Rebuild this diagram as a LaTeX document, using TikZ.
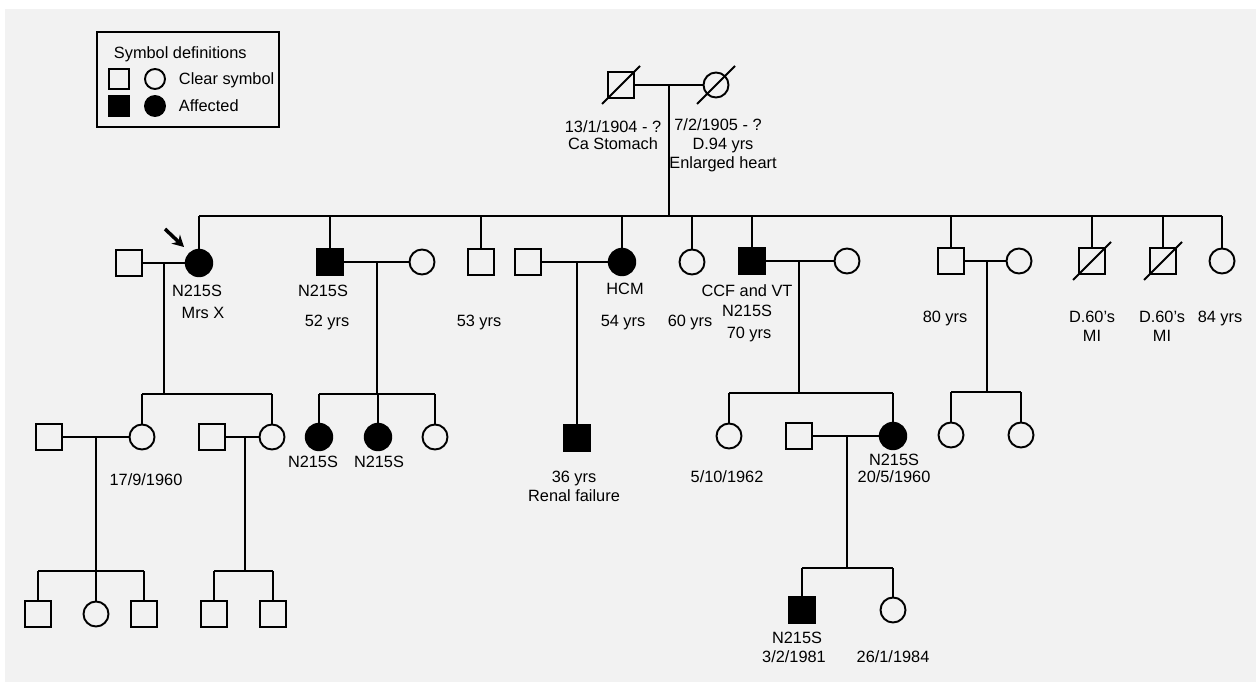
\documentclass[tikz,border=0pt]{standalone}
\usepackage{fontspec}
\setmainfont{Liberation Sans}
\usetikzlibrary{arrows.meta}

\begin{document}
\begin{tikzpicture}[x=0.02cm,y=-0.02cm,>={Stealth[length=6.5pt,width=7pt]},line width=1.1pt,
        male/.style={draw, rectangle, minimum size=0.52cm, inner sep=0pt},
        female/.style={draw, circle, minimum size=0.5cm, inner sep=0pt},
        aff/.style={fill=black, minimum size=0.53cm},
        keysym/.style={minimum size=0.4cm},
        deceased/.style={line width=1.1pt},
        lbl/.style={inner sep=0pt, font=\fontsize{9.3}{11}\selectfont, text height=6.6pt, text depth=0pt}]
        % page and background
        \useasboundingbox (0,0) rectangle (1256,682);
        \fill[white] (0,0) rectangle (1256,682);
        \fill[black!5] (5,9) rectangle (1256,682);

        % legend
        \draw (97,32) rectangle (279,127);
        \node (keytitle) [lbl, anchor=west] at (113,53) {Symbol definitions};
        \node (keysq) [male, keysym] at (119,79) {};
        \node (keyci) [female, keysym] at (155,79) {};
        \node (keysqa) [male, keysym, fill=black] at (119,106) {};
        \node (keycia) [female, keysym, fill=black] at (155,106) {};
        \node (keyclear) [lbl, anchor=west] at (178,79) {Clear symbol};
        \node (keyaff) [lbl, anchor=west] at (178,106) {Affected};

        % generation I
        \node (gpa) [male] at (621,85) {};
        \node (gma) [female] at (716,85) {};
        \draw[deceased] ([shift={(-19,19)}]gpa.center) -- ([shift={(19,-19)}]gpa.center);
        \draw[deceased] ([shift={(-19,19)}]gma.center) -- ([shift={(19,-19)}]gma.center);
        \draw (gpa) -- (gma);
        \coordinate (mgp) at (669,85);
        \coordinate (sibgp) at (669,216);
        \draw (mgp) -- (sibgp);
        \node (gpa1) [lbl] at (613,127) {13/1/1904 - ?};
        \node (gpa2) [lbl] at (613,144) {Ca Stomach};
        \node (gma1) [lbl] at (718,125) {7/2/1905 - ?};
        \node (gma2) [lbl] at (723,144) {D.94 yrs};
        \node (gma3) [lbl] at (723,163) {Enlarged heart};

        % generation II
        \node (hx) [male] at (129,263) {};
        \node (mrsx) [female, aff] at (199,263) {};
        \node (u52) [male, aff] at (330,262) {};
        \node (w52) [female] at (422,262) {};
        \node (u53) [male] at (481,262) {};
        \node (h54) [male] at (528,262) {};
        \node (a54) [female, aff] at (622,262) {};
        \node (a60) [female] at (692,262) {};
        \node (u70) [male, aff] at (752,261) {};
        \node (w70) [female] at (847,261) {};
        \node (u80) [male] at (951,261) {};
        \node (w80) [female] at (1019,261) {};
        \node (ud1) [male] at (1092,261) {};
        \node (ud2) [male] at (1163,261) {};
        \node (a84) [female] at (1222,261) {};
        \draw[deceased] ([shift={(-19,19)}]ud1.center) -- ([shift={(19,-19)}]ud1.center);
        \draw[deceased] ([shift={(-19,19)}]ud2.center) -- ([shift={(19,-19)}]ud2.center);

        \draw (mrsx |- sibgp) -- (a84 |- sibgp);
        \foreach \k in {mrsx,u52,u53,a54,a60,u70,u80,ud1,ud2,a84}
            \draw (\k) -- (\k |- sibgp);
        \draw (hx) -- (mrsx);
        \draw (u52) -- (w52);
        \draw (h54) -- (a54);
        \draw (u70) -- (w70);
        \draw (u80) -- (w80);

        % proband arrow
        \coordinate (arrs) at (165,229);
        \coordinate (arre) at (184,247);
        \draw[->, line width=2pt] (arrs) -- (arre);

        \node (mrsx1) [lbl] at (197,291) {N215S};
        \node (mrsx2) [lbl] at (203,313) {Mrs X};
        \node (u52a) [lbl] at (323,291) {N215S};
        \node (u52b) [lbl] at (327,321) {52 yrs};
        \node (u53a) [lbl] at (479,321) {53 yrs};
        \node (a54a) [lbl] at (625,289) {HCM};
        \node (a54b) [lbl] at (623,321) {54 yrs};
        \node (a60a) [lbl] at (690,321) {60 yrs};
        \node (u70a) [lbl] at (747,291) {CCF and VT};
        \node (u70b) [lbl] at (747,311) {N215S};
        \node (u70c) [lbl] at (749,333) {70 yrs};
        \node (u80a) [lbl] at (945,317) {80 yrs};
        \node (ud1a) [lbl] at (1092,317) {D.60’s};
        \node (ud1b) [lbl] at (1092,336) {MI};
        \node (ud2a) [lbl] at (1162,317) {D.60’s};
        \node (ud2b) [lbl] at (1162,336) {MI};
        \node (a84a) [lbl] at (1220,317) {84 yrs};

        % generation III
        \coordinate (mx) at (164,263);
        \coordinate (sibx) at (164,394);
        \node (d1) [female] at (142,437) {};
        \node (d2) [female] at (272,437) {};
        \node (hd1) [male] at (49,437) {};
        \node (hd2) [male] at (212,437) {};
        \draw (mx) -- (sibx);
        \draw (d1 |- sibx) -- (d2 |- sibx);
        \draw (d1) -- (d1 |- sibx);
        \draw (d2) -- (d2 |- sibx);
        \draw (hd1) -- (d1);
        \draw (hd2) -- (d2);
        \node (d1a) [lbl] at (146,480) {17/9/1960};

        \coordinate (m52) at (377,262);
        \coordinate (sib52) at (377,394);
        \node (c52a) [female, aff] at (319,437) {};
        \node (c52b) [female, aff] at (378,437) {};
        \node (c52c) [female] at (435,437) {};
        \draw (m52) -- (sib52);
        \draw (c52a |- sib52) -- (c52c |- sib52);
        \foreach \k in {c52a,c52b,c52c}
            \draw (\k) -- (\k |- sib52);
        \node (c52a1) [lbl] at (313,462) {N215S};
        \node (c52b1) [lbl] at (379,462) {N215S};

        \coordinate (m54) at (577,262);
        \node (s54) [male, aff] at (577,438) {};
        \draw (m54) -- (s54);
        \node (s54a) [lbl] at (574,477) {36 yrs};
        \node (s54b) [lbl] at (574,496) {Renal failure};

        \coordinate (m70) at (799,261);
        \coordinate (sib70) at (799,393);
        \node (c70a) [female] at (729,436) {};
        \node (c70b) [female, aff] at (893,436) {};
        \node (h70b) [male] at (799,436) {};
        \draw (m70) -- (sib70);
        \draw (c70a |- sib70) -- (c70b |- sib70);
        \draw (c70a) -- (c70a |- sib70);
        \draw (c70b) -- (c70b |- sib70);
        \draw (h70b) -- (c70b);
        \node (c70a1) [lbl] at (727,477) {5/10/1962};
        \node (c70b1) [lbl] at (894,460) {N215S};
        \node (c70b2) [lbl] at (894,477) {20/5/1960};

        \coordinate (m80) at (987,261);
        \coordinate (sib80) at (987,392);
        \node (c80a) [female] at (951,435) {};
        \node (c80b) [female] at (1021,435) {};
        \draw (m80) -- (sib80);
        \draw (c80a |- sib80) -- (c80b |- sib80);
        \draw (c80a) -- (c80a |- sib80);
        \draw (c80b) -- (c80b |- sib80);

        % generation IV
        \coordinate (md1) at (96,437);
        \coordinate (sibd1) at (96,571);
        \node (g1) [male] at (38,614) {};
        \node (g2) [female] at (96,614) {};
        \node (g3) [male] at (144,614) {};
        \draw (md1) -- (sibd1);
        \draw (g1 |- sibd1) -- (g3 |- sibd1);
        \foreach \k in {g1,g2,g3}
            \draw (\k) -- (\k |- sibd1);

        \coordinate (md2) at (245,437);
        \coordinate (sibd2) at (245,571);
        \node (g4) [male] at (214,614) {};
        \node (g5) [male] at (273,614) {};
        \draw (md2) -- (sibd2);
        \draw (g4 |- sibd2) -- (g5 |- sibd2);
        \draw (g4) -- (g4 |- sibd2);
        \draw (g5) -- (g5 |- sibd2);

        \coordinate (mc70) at (847,436);
        \coordinate (sibc70) at (847,568);
        \node (g6) [male, aff] at (802,610) {};
        \node (g7) [female] at (893,610) {};
        \draw (mc70) -- (sibc70);
        \draw (g6 |- sibc70) -- (g7 |- sibc70);
        \draw (g6) -- (g6 |- sibc70);
        \draw (g7) -- (g7 |- sibc70);
        \node (g6a) [lbl] at (797,638) {N215S};
        \node (g6b) [lbl] at (794,657) {3/2/1981};
        \node (g7a) [lbl] at (893,657) {26/1/1984};
    \end{tikzpicture}
\end{document}
